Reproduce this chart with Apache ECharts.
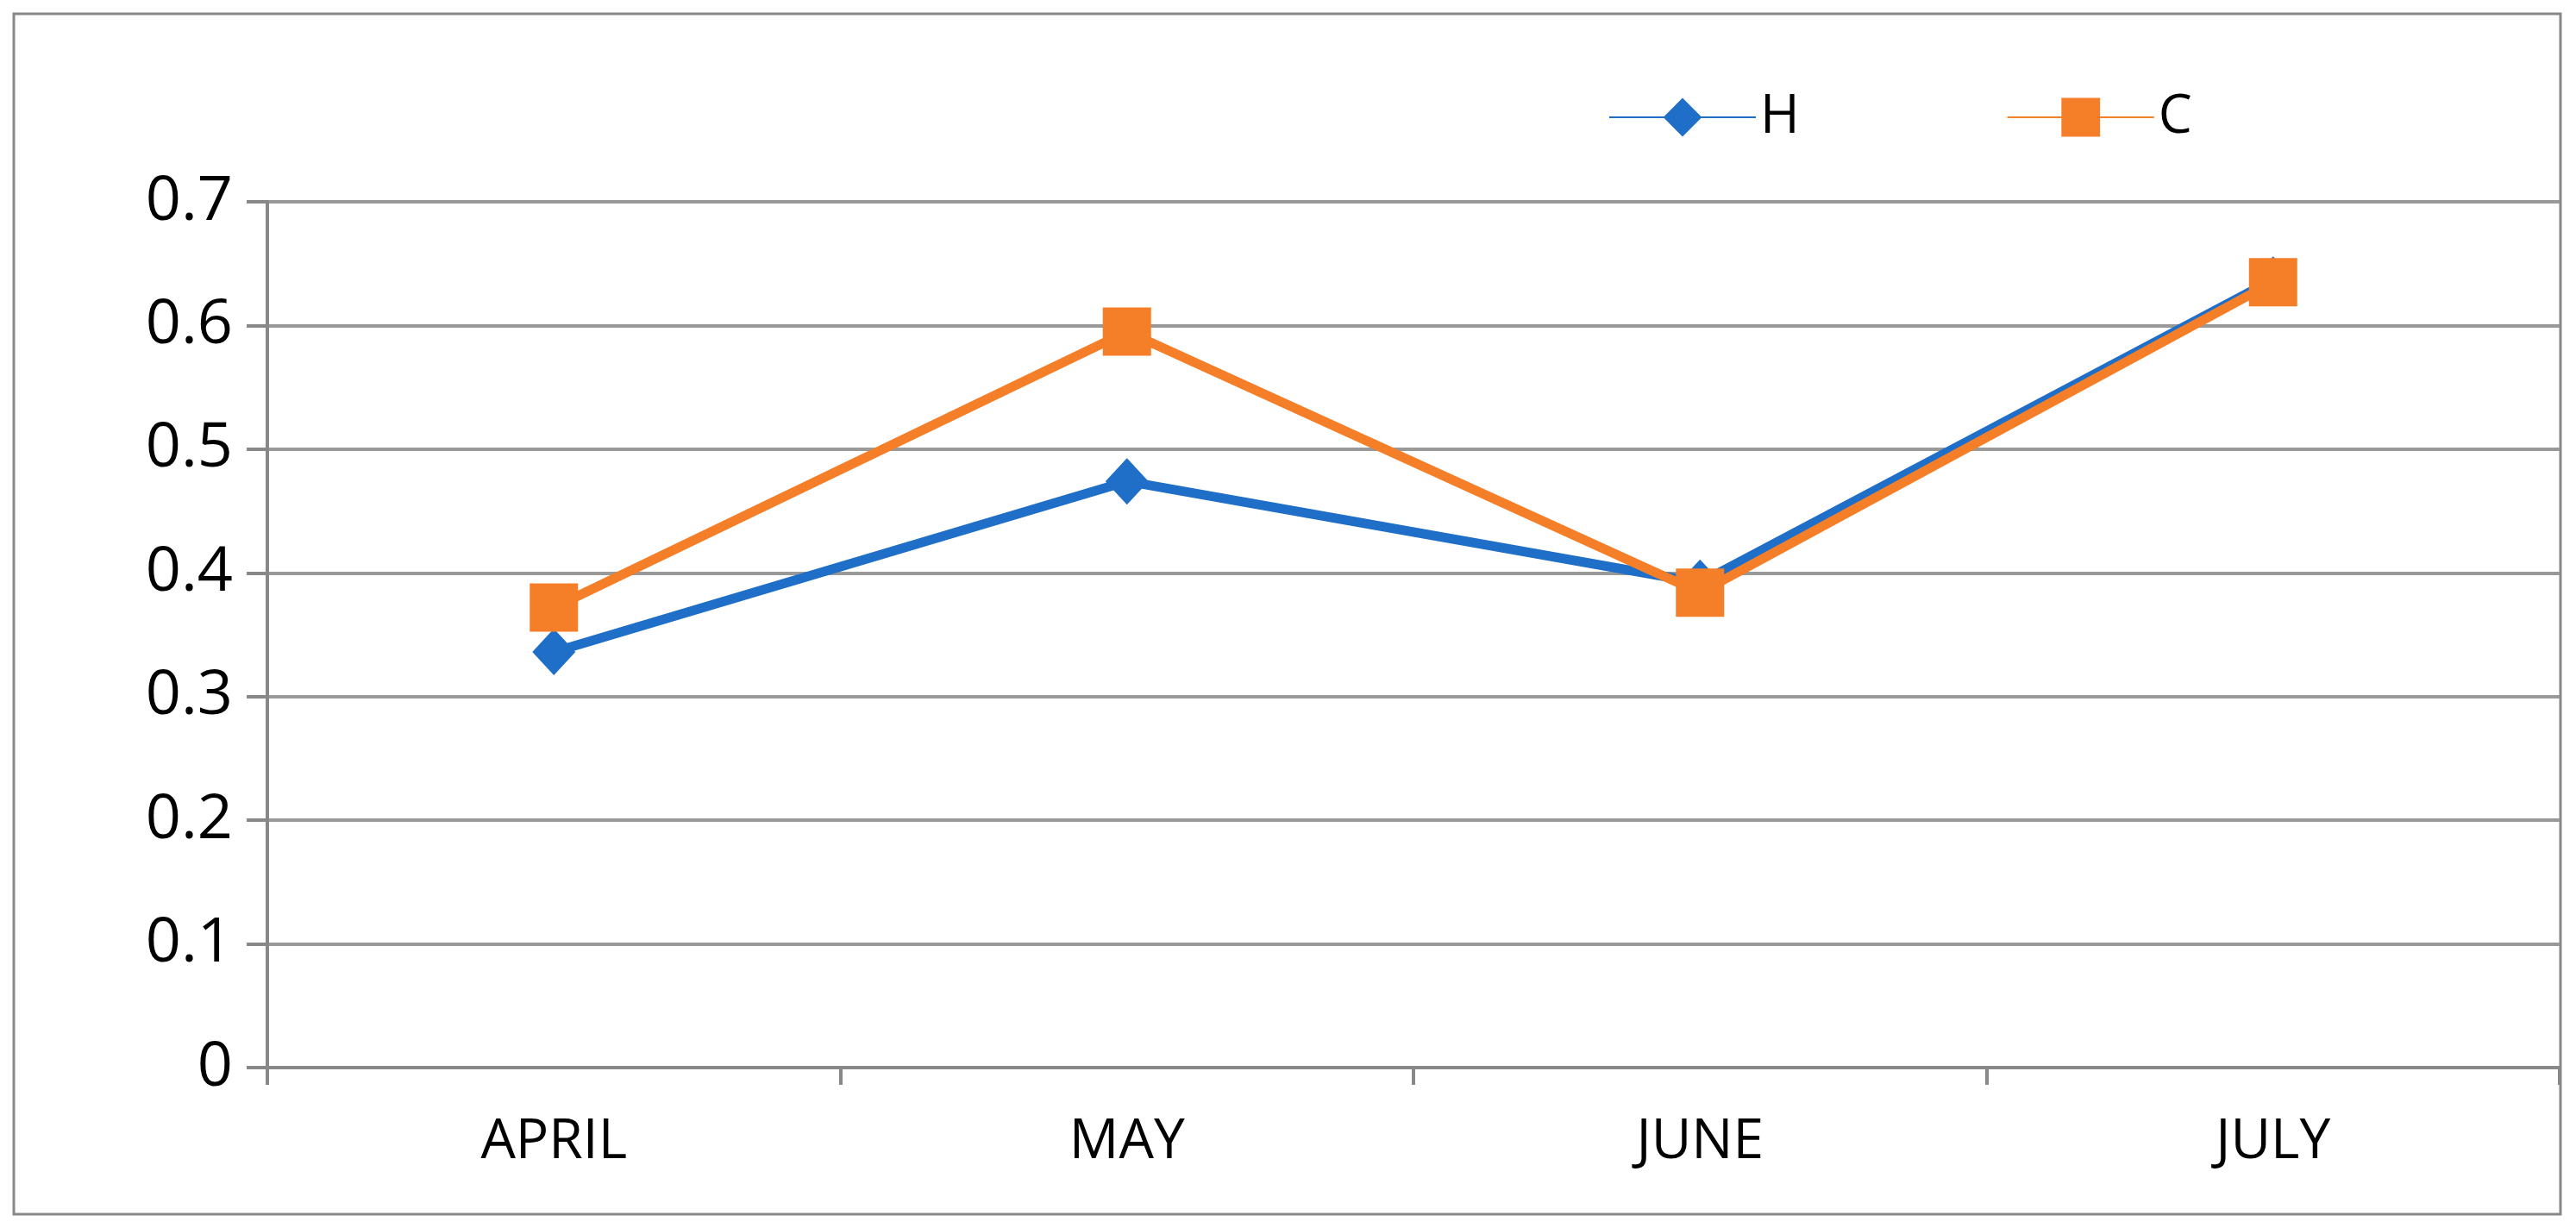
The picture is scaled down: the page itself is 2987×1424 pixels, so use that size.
<!DOCTYPE html>
<html>
<head>
<meta charset="utf-8">
<script src="https://cdn.jsdelivr.net/npm/echarts@6/dist/echarts.min.js"></script>
<style>
  html, body { margin: 0; padding: 0; background: #fff; }
  #chart { width: 2987px; height: 1424px; }
</style>
</head>
<body>
<div id="chart"></div>
<script>
const months = ["APRIL", "MAY", "JUNE", "JULY"];
const hValues = [0.336, 0.474, 0.392, 0.637];
const cValues = [0.372, 0.595, 0.384, 0.635];

const chart = echarts.init(document.getElementById("chart"));
const font = "Open Sans, Liberation Sans, sans-serif";

chart.setOption({
  animation: false,
  backgroundColor: "#fff",
  graphic: [{
    type: "rect",
    shape: { x: 16, y: 16, width: 2953, height: 1392 },
    style: { fill: "none", stroke: "#888", lineWidth: 3 }
  }],
  legend: {
    top: 100,
    left: 1860,
    itemGap: 240,
    itemWidth: 170,
    itemHeight: 56,
    textStyle: { fontSize: 62, fontFamily: font, color: "#000" },
    data: ["H", "C"]
  },
  grid: { left: 310, right: 19, top: 234, bottom: 186 },
  xAxis: {
    type: "category",
    data: months,
    boundaryGap: true,
    axisLine: { lineStyle: { color: "#888", width: 4 } },
    axisTick: { show: true, length: 20, lineStyle: { color: "#888", width: 4 } },
    axisLabel: { fontSize: 64, fontFamily: font, color: "#000", margin: 55 }
  },
  yAxis: {
    type: "value",
    min: 0,
    max: 0.7,
    interval: 0.1,
    axisLine: { show: true, lineStyle: { color: "#888", width: 4 } },
    axisTick: { show: true, length: 24, lineStyle: { color: "#888", width: 4 } },
    splitLine: { lineStyle: { color: "#999", width: 4 } },
    axisLabel: {
      fontSize: 72, fontFamily: font, color: "#000", margin: 40,
      formatter: v => String(Math.round(v * 10) / 10)
    }
  },
  series: [
    {
      name: "H", type: "line", data: hValues,
      symbol: "diamond", symbolSize: [50, 54],
      lineStyle: { color: "#1f6fc8", width: 11 },
      itemStyle: { color: "#1f6fc8" }
    },
    {
      name: "C", type: "line", data: cValues,
      symbol: "rect", symbolSize: 56,
      lineStyle: { color: "#f57f28", width: 11 },
      itemStyle: { color: "#f57f28" }
    }
  ]
});
</script>
</body>
</html>
